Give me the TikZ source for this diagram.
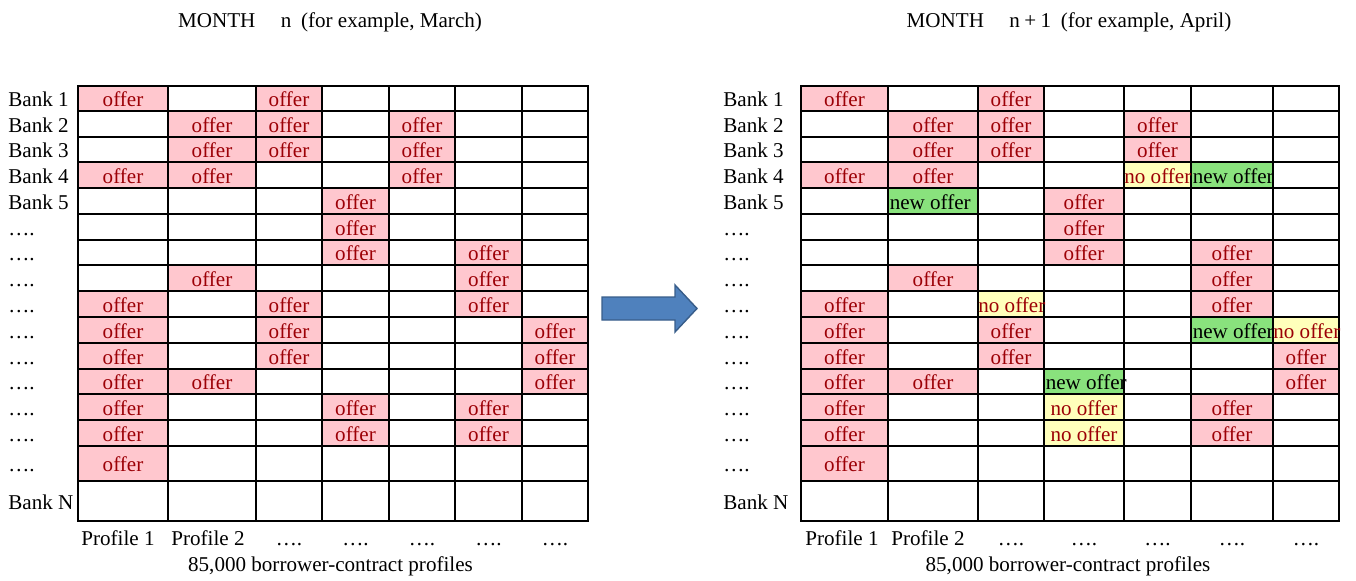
\documentclass[tikz,border=0pt]{standalone}
\usepackage{fontspec}
\setmainfont{Liberation Serif}
\usetikzlibrary{backgrounds}

\definecolor{offerbg}{HTML}{FFC7CE}
\definecolor{offertext}{HTML}{9C0006}
\definecolor{newbg}{RGB}{137,226,125}
\definecolor{nobg}{RGB}{255,255,187}
\definecolor{arrowfill}{HTML}{4F81BD}
\definecolor{arrowedge}{HTML}{385D8A}

\tikzset{
  cell/.style={draw, rectangle, inner sep=0pt, outer sep=0pt, line width=0.6pt},
  txt/.style={inner sep=0pt, text height=9.6pt, text depth=0pt},
  offer/.style={txt, text=offertext},
  newoffer/.style={txt, text=black, anchor=west, xshift=0.8pt},
  nooffer/.style={txt, text=offertext},
  banklabel/.style={txt, anchor=west},
}

\begin{document}
\begin{tikzpicture}[x=0.02cm, y=-0.02cm, font=\fontsize{12}{14}\selectfont]
    \useasboundingbox (0,0) rectangle (1356,581);

    % month n grid
    \foreach \c/\xa/\xb in {1/78/168, 2/168/256, 3/256/322, 4/322/389, 5/389/455, 6/455/522, 7/522/588}{
        \foreach \r/\ya/\yb in {1/86/111, 2/111/137, 3/137/162, 4/162/188, 5/188/214, 6/214/240, 7/240/265, 8/265/291,
                                9/291/317, 10/317/343, 11/343/369, 12/369/394, 13/394/420, 14/420/446, 15/446/481, 16/481/521}{
            \pgfmathsetmacro{\cellw}{(\xb-\xa)*0.02}
            \pgfmathsetmacro{\cellh}{(\yb-\ya)*0.02}
            \node[cell, minimum width=\cellw cm, minimum height=\cellh cm] (L\r-\c) at ({(\xa+\xb)/2},{(\ya+\yb)/2}) {};
        }
    }

    % month n+1 grid
    \foreach \c/\xa/\xb in {1/801/888, 2/888/978, 3/978/1044, 4/1044/1124, 5/1124/1191, 6/1191/1273, 7/1273/1339}{
        \foreach \r/\ya/\yb in {1/86/111, 2/111/137, 3/137/162, 4/162/188, 5/188/214, 6/214/240, 7/240/265, 8/265/291,
                                9/291/317, 10/317/343, 11/343/369, 12/369/394, 13/394/420, 14/420/446, 15/446/481, 16/481/521}{
            \pgfmathsetmacro{\cellw}{(\xb-\xa)*0.02}
            \pgfmathsetmacro{\cellh}{(\yb-\ya)*0.02}
            \node[cell, minimum width=\cellw cm, minimum height=\cellh cm] (R\r-\c) at ({(\xa+\xb)/2},{(\ya+\yb)/2}) {};
        }
    }

    % cell colours go under the grid lines
    \begin{scope}[on background layer]
        \foreach \r/\c in {1/1, 1/3, 2/2, 2/3, 2/5, 3/2, 3/3, 3/5, 4/1, 4/2, 4/5, 5/4, 6/4, 7/4, 7/6, 8/2, 8/6,
                           9/1, 9/3, 9/6, 10/1, 10/3, 10/7, 11/1, 11/3, 11/7, 12/1, 12/2, 12/7, 13/1, 13/4, 13/6,
                           14/1, 14/4, 14/6, 15/1}
            \fill[offerbg] (L\r-\c.north west) rectangle (L\r-\c.south east);
        \foreach \r/\c in {1/1, 1/3, 2/2, 2/3, 2/5, 3/2, 3/3, 3/5, 4/1, 4/2, 5/4, 6/4, 7/4, 7/6, 8/2, 8/6,
                           9/1, 9/6, 10/1, 10/3, 11/1, 11/3, 11/7, 12/1, 12/2, 12/7, 13/1, 13/6, 14/1, 14/6, 15/1}
            \fill[offerbg] (R\r-\c.north west) rectangle (R\r-\c.south east);
        \foreach \r/\c in {4/6, 5/2, 10/6, 12/4}
            \fill[newbg] (R\r-\c.north west) rectangle (R\r-\c.south east);
        \foreach \r/\c in {4/5, 9/3, 10/7, 13/4, 14/4}
            \fill[nobg] (R\r-\c.north west) rectangle (R\r-\c.south east);
    \end{scope}

    % cell texts
    \foreach \r/\c in {1/1, 1/3, 2/2, 2/3, 2/5, 3/2, 3/3, 3/5, 4/1, 4/2, 4/5, 5/4, 6/4, 7/4, 7/6, 8/2, 8/6,
                       9/1, 9/3, 9/6, 10/1, 10/3, 10/7, 11/1, 11/3, 11/7, 12/1, 12/2, 12/7, 13/1, 13/4, 13/6,
                       14/1, 14/4, 14/6, 15/1}
        \node[offer] (offerL\r-\c) at (L\r-\c) {offer};
    \foreach \r/\c in {1/1, 1/3, 2/2, 2/3, 2/5, 3/2, 3/3, 3/5, 4/1, 4/2, 5/4, 6/4, 7/4, 7/6, 8/2, 8/6,
                       9/1, 9/6, 10/1, 10/3, 11/1, 11/3, 11/7, 12/1, 12/2, 12/7, 13/1, 13/6, 14/1, 14/6, 15/1}
        \node[offer] (offerR\r-\c) at (R\r-\c) {offer};
    \foreach \r/\c in {4/6, 5/2, 10/6, 12/4}
        \node[newoffer] (newR\r-\c) at (R\r-\c.west) {new offer};
    \foreach \r/\c in {4/5, 9/3, 10/7}
        \node[nooffer, anchor=west] (noR\r-\c) at (R\r-\c.west) {no offer};
    \foreach \r/\c in {13/4, 14/4}
        \node[nooffer] (noR\r-\c) at (R\r-\c) {no offer};

    % bank names down the left of each grid
    \foreach \r/\lab in {1/Bank 1, 2/Bank 2, 3/Bank 3, 4/Bank 4, 5/Bank 5, 6/…., 7/…., 8/…., 9/…., 10/….,
                         11/…., 12/…., 13/…., 14/…., 15/…., 16/Bank N}{
        \node[banklabel] (bankL\r) at (8,0 |- L\r-1) {\lab};
        \node[banklabel] (bankR\r) at (723,0 |- R\r-1) {\lab};
    }

    % profiles along the bottom
    \node[banklabel] (profL1) at (81,537) {Profile 1};
    \node[banklabel] (profL2) at (171,537) {Profile 2};
    \node[banklabel] (profR1) at (805,537) {Profile 1};
    \node[banklabel] (profR2) at (891,537) {Profile 2};
    \foreach \c in {3,...,7}{
        \node[txt] (dotsL\c) at (L16-\c |- 0,537) {….};
        \node[txt] (dotsR\c) at (R16-\c |- 0,537) {….};
    }
    \node[txt] (countL) at (330.5,563) {85,000 borrower-contract profiles};
    \node[txt] (countR) at (1068,563) {85,000 borrower-contract profiles};

    % month titles
    \node[txt] (monthL) at (330,19) {MONTH\hspace{14.5pt}n\hspace{5.5pt}(for example, March)};
    \node[txt] (monthR) at (1069,19) {MONTH\hspace{14.5pt}n\hspace{2.5pt}+\hspace{2.5pt}1\hspace{5.5pt}(for example, April)};

    % block arrow from one month to the next
    \draw[fill=arrowfill, draw=arrowedge, line width=0.8pt, line join=miter]
        (602,297) -- (675,297) -- (675,285) -- (697,308.5) -- (675,332) -- (675,320) -- (602,320) -- cycle;

\end{tikzpicture}
\end{document}
